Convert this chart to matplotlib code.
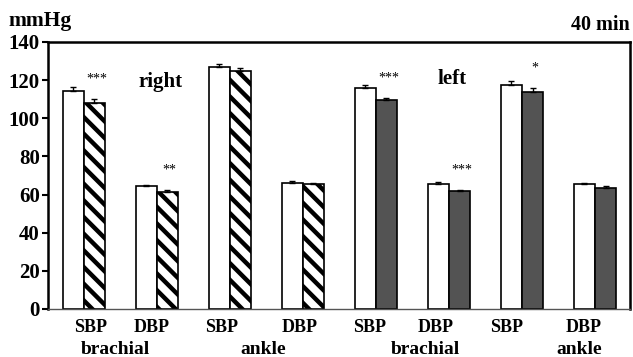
import matplotlib
matplotlib.use("Agg")
import matplotlib.pyplot as plt
import numpy as np

# bar groups, left to right
measures = ["SBP", "DBP", "SBP", "DBP", "SBP", "DBP", "SBP", "DBP"]
sites = ["brachial", "ankle", "brachial", "ankle"]
sides = ["right", "left"]

baseline = [114.5, 64.6, 126.9, 65.9, 115.9, 65.4, 117.3, 65.5]
baseline_err = [2.0, 0.6, 1.8, 1.0, 1.3, 1.0, 2.0, 0.6]
after = [108.2, 61.2, 124.8, 65.3, 109.6, 62.0, 113.8, 63.4]
after_err = [2.0, 1.2, 1.8, 1.0, 1.2, 0.5, 2.0, 1.2]
stars = ["***", "**", "", "", "***", "***", "*", ""]

plt.rcParams["font.family"] = ["Liberation Serif", "DejaVu Serif"]
plt.rcParams["font.weight"] = "bold"
plt.rcParams["hatch.linewidth"] = 3.2
plt.rcParams["hatch.color"] = "black"

fig = plt.figure(figsize=(6.33, 3.57), dpi=100)
ax = fig.add_axes([0.0758, 0.1345, 0.9195, 0.748])

x = np.arange(len(measures))
w = 0.29
right = x < 4

ax.bar(x - w / 2, baseline, w, color="white", edgecolor="black", linewidth=1.2, zorder=2)
ax.bar(x[right] + w / 2, np.array(after)[right], w, color="white", edgecolor="black",
       hatch="\\\\", linewidth=1.2, zorder=2)
ax.bar(x[~right] + w / 2, np.array(after)[~right], w, color="#535353", edgecolor="black",
       linewidth=1.2, zorder=2)

zeros = np.zeros(len(x))
ax.errorbar(x - w / 2, baseline, yerr=[zeros, baseline_err], fmt="none", ecolor="black",
            elinewidth=1.0, capsize=2.5, capthick=1.0, zorder=3)
ax.errorbar(x + w / 2, after, yerr=[zeros, after_err], fmt="none", ecolor="black",
            elinewidth=1.0, capsize=2.5, capthick=1.0, zorder=3)

for xi, s, top, e in zip(x, stars, after, after_err):
    if s:
        ax.text(xi + w / 2 + 0.03, top + e + 7, s, ha="center", va="bottom",
                fontsize=10, fontweight="normal")

ax.text(1.05, 119, sides[0], ha="center", va="center", fontsize=15)
ax.text(5.05, 120.5, sides[1], ha="center", va="center", fontsize=15)

ax.set_xlim(-0.49, 7.48)
ax.set_ylim(0, 140)
ax.set_yticks(range(0, 141, 20))
ax.set_xticks([])
ax.tick_params(axis="y", direction="out", length=4, width=1.5, pad=2, labelsize=15)
for lab in ax.get_yticklabels():
    lab.set_fontweight("bold")

for sp in ["top", "left", "right"]:
    ax.spines[sp].set_linewidth(1.8)
ax.spines["bottom"].set_linewidth(1.0)
ax.spines["bottom"].set_color("#555555")

# category labels below the axis
label_x = [0.09, 0.93, 1.89, 2.96, 3.92, 4.82, 5.79, 6.84]
for lx, m in zip(label_x, measures):
    ax.text(lx, -11.9, m, ha="center", va="baseline", fontsize=13, clip_on=False)
site_x = [0.44, 2.45, 4.68, 6.78]
for sx, s in zip(site_x, sites):
    ax.text(sx, -23.4, s, ha="center", va="baseline", fontsize=14, clip_on=False)

fig.text(8 / 633, 1 - 21 / 357, "mmHg", ha="left", va="center", fontsize=15.5)
fig.text(630 / 633, 1 - 25 / 357, "40 min", ha="right", va="center", fontsize=14.5)

fig.savefig("out.png", dpi=100)
